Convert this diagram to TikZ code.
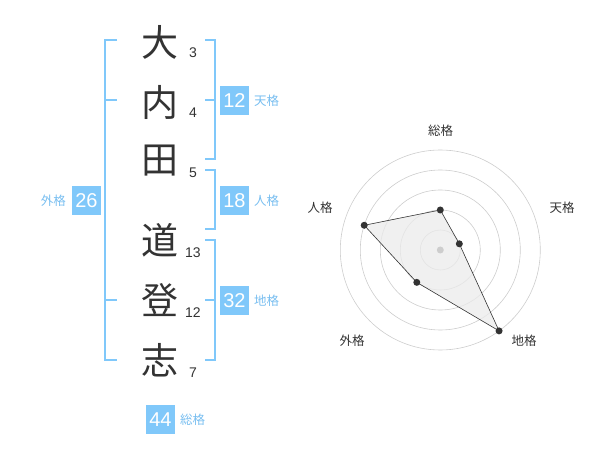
\documentclass[tikz,border=0pt]{standalone}
\usepackage{fontspec}
\usetikzlibrary{calc}
\setmainfont{Liberation Sans}
\newfontfamily\jp{Noto Sans CJK JP}
\definecolor{bl}{RGB}{128,200,250}
\definecolor{bltxt}{RGB}{120,190,240}
\definecolor{ink}{RGB}{51,51,51}
\definecolor{ring}{RGB}{205,205,205}
\definecolor{fillg}{RGB}{235,235,235}
\begin{document}
\begin{tikzpicture}[x=1pt,y=-1pt,
  kanji/.style={font=\jp\fontsize{37}{37}\selectfont,text=ink,inner sep=0pt},
  strokes/.style={font=\fontsize{14}{14}\selectfont,text=ink,inner sep=0pt},
  valbox/.style={fill=bl,text=white,minimum width=29pt,minimum height=29pt,inner sep=0pt,font=\fontsize{20}{20}\selectfont},
  vallbl/.style={font=\jp\fontsize{12.5}{12.5}\selectfont,text=bltxt,inner sep=0pt},
  brk/.style={draw=bl,line width=1.6pt},
  axlbl/.style={font=\jp\fontsize{12.5}{12.5}\selectfont,text=ink,inner sep=0pt},
  ringc/.style={draw=ring,line width=0.6pt},
  dot/.style={circle,fill=ink,inner sep=0pt,minimum size=7pt}]
\useasboundingbox (0,0) rectangle (600,470);
% kanji
\node[kanji] (k1) at (160,42) {大};
\node[kanji] (k2) at (160,102) {内};
\node[kanji] (k3) at (160,161) {田};
\node[kanji] (k4) at (160,240) {道};
\node[kanji] (k5) at (160,300) {登};
\node[kanji] (k6) at (160,360) {志};
\node[strokes] (s1) at (193,53) {3};
\node[strokes] (s2) at (193,113) {4};
\node[strokes] (s3) at (193,173) {5};
\node[strokes] (s4) at (193,253) {13};
\node[strokes] (s5) at (193,313) {12};
\node[strokes] (s6) at (193,373) {7};
% brackets
\draw[brk] (117,40) -- (105,40) -- (105,360) -- (117,360);
\draw[brk] (105,100) -- (117,100);
\draw[brk] (105,300) -- (117,300);
\draw[brk] (205,40) -- (215,40) -- (215,159) -- (205,159);
\draw[brk] (205,100) -- (215,100);
\draw[brk] (205,170) -- (215,170) -- (215,229) -- (205,229);
\draw[brk] (205,240) -- (215,240) -- (215,360) -- (205,360);
\draw[brk] (205,300) -- (215,300);
% value boxes
\node[valbox] (v12) at (234.5,100.5) {12};
\node[vallbl,anchor=west] (l12) at (254,101) {天格};
\node[valbox] (v18) at (234.5,200.5) {18};
\node[vallbl,anchor=west] (l18) at (254,201) {人格};
\node[valbox] (v32) at (234.5,300.5) {32};
\node[vallbl,anchor=west] (l32) at (254,301) {地格};
\node[valbox] (v26) at (86.5,200.5) {26};
\node[vallbl,anchor=east] (l26) at (66,201) {外格};
\node[valbox] (v44) at (160.5,419.5) {44};
\node[vallbl,anchor=west] (l44) at (180,420) {総格};
% radar
\coordinate (c) at (440.3,250);
\foreach \r in {20,40,60,80,100} \draw[ringc] (c) circle (\r);
\coordinate (pA) at ($(c)+(0,-40)$);
\coordinate (pB) at ($(c)+({20*cos(18)},{-20*sin(18)})$);
\coordinate (pC) at ($(c)+({100*cos(54)},{100*sin(54)})$);
\coordinate (pD) at ($(c)+({-40*cos(54)},{40*sin(54)})$);
\coordinate (pE) at ($(c)+({-80*cos(18)},{-80*sin(18)})$);
\fill[fillg,opacity=0.75] (pA) -- (pB) -- (pC) -- (pD) -- (pE) -- cycle;
\draw[ink,line width=0.6pt] (pA) -- (pB) -- (pC) -- (pD) -- (pE) -- cycle;
\fill[ring] (c) circle (3.5);
\foreach \p in {pA,pB,pC,pD,pE} \node[dot] at (\p) {};
\node[axlbl] (aA) at (440.7,131) {総格};
\node[axlbl] (aB) at (562,208) {天格};
\node[axlbl] (aC) at (524,341) {地格};
\node[axlbl] (aD) at (352,341) {外格};
\node[axlbl] (aE) at (320,208) {人格};
\end{tikzpicture}
\end{document}
